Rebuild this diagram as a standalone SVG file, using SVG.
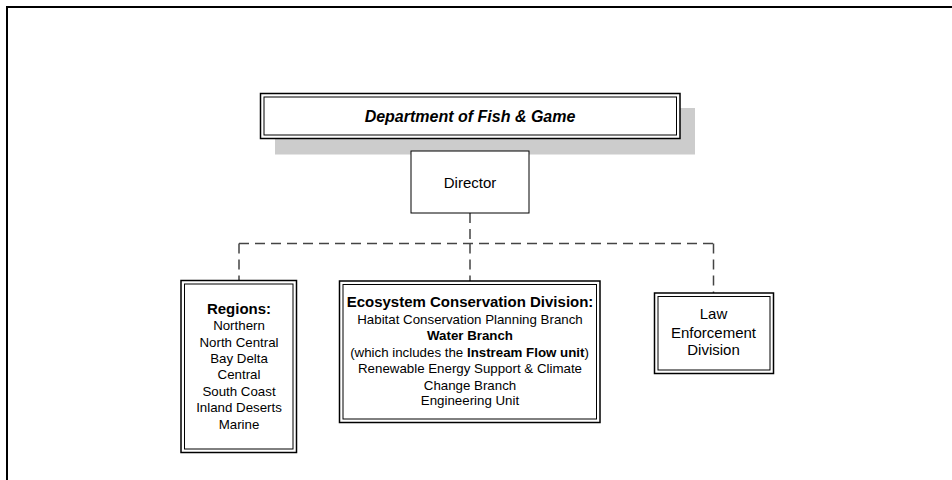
<svg xmlns="http://www.w3.org/2000/svg" width="952" height="480" viewBox="0 0 952 480">
<style>
text{font-family:"Liberation Sans",Arial,sans-serif;fill:#000;text-anchor:middle}
.n{font-size:13.3px}
.h{font-size:15px;font-weight:bold}
.b{font-weight:bold}
.outer{fill:#fff;stroke:#000;stroke-width:1.5}
.inner{fill:none;stroke:#000;stroke-width:1}
.dash{fill:none;stroke:#444;stroke-width:1.5;stroke-dasharray:10 6}
</style>
<rect width="952" height="480" fill="#fff"/>
<path d="M7 480 V7 H952" fill="none" stroke="#000" stroke-width="2"/>
<g id="connectors">
<line x1="470" y1="139" x2="470" y2="151" stroke="#555" stroke-width="2"/>
<line class="dash" x1="470" y1="213" x2="470" y2="243.5"/>
<line class="dash" x1="239" y1="243.5" x2="713.5" y2="243.5"/>
<line class="dash" x1="239" y1="243.5" x2="239" y2="280"/>
<line class="dash" x1="470" y1="243.5" x2="470" y2="281"/>
<line class="dash" x1="713.5" y1="243.5" x2="713.5" y2="293"/>
</g>
<g id="department">
<rect x="275" y="108" width="420" height="46.5" fill="#cccccc"/>
<rect class="outer" x="260.5" y="93.5" width="419.5" height="45" stroke-width="2"/>
<rect class="inner" x="264" y="97" width="412.5" height="38"/>
<text x="470" y="122" font-size="16" font-weight="bold" font-style="italic">Department of Fish &amp; Game</text>
</g>
<g id="director">
<rect x="411" y="151" width="118" height="62" fill="#fff" stroke="#000" stroke-width="1"/>
<text x="470" y="187.5" style="font-size:15px">Director</text>
</g>
<g id="regions">
<rect class="outer" x="181" y="280.5" width="115.5" height="172"/>
<rect class="inner" x="184.5" y="284" width="108.5" height="165"/>
<text class="h" x="239" y="314">Regions:</text>
<text class="n" x="239" y="330.3">Northern</text>
<text class="n" x="239" y="346.6">North Central</text>
<text class="n" x="239" y="362.8">Bay Delta</text>
<text class="n" x="239" y="379">Central</text>
<text class="n" x="239" y="396">South Coast</text>
<text class="n" x="239" y="412.3">Inland Deserts</text>
<text class="n" x="239" y="428.6">Marine</text>
</g>
<g id="ecosystem">
<rect class="outer" x="339.5" y="281" width="260.5" height="141.5"/>
<rect class="inner" x="343" y="284.5" width="253.5" height="134.5"/>
<text class="h" x="470" y="306.8">Ecosystem Conservation Division:</text>
<text class="n" x="470" y="323.6">Habitat Conservation Planning Branch</text>
<text class="n b" x="470" y="340.2">Water Branch</text>
<text class="n" x="469.5" y="356.6">(which includes the <tspan class="b">Instream Flow unit</tspan>)</text>
<text class="n" x="470" y="373">Renewable Energy Support &amp; Climate</text>
<text class="n" x="470" y="389.5">Change Branch</text>
<text class="n" x="470" y="405">Engineering Unit</text>
</g>
<g id="law">
<rect class="outer" x="654.5" y="293" width="119" height="80.5"/>
<rect class="inner" x="658" y="296.5" width="112" height="73.5"/>
<text x="713.5" y="319" font-size="15">Law</text>
<text x="713.5" y="337.5" font-size="15">Enforcement</text>
<text x="713.5" y="355" font-size="15">Division</text>
</g>
</svg>
